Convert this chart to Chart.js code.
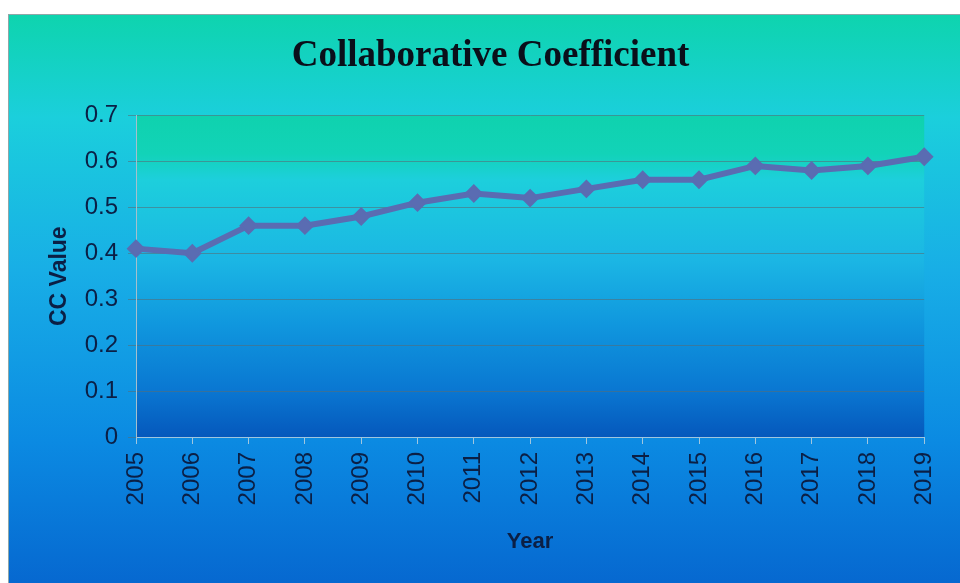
<!DOCTYPE html>
<html>
<head>
<meta charset="utf-8">
<script src="https://cdn.jsdelivr.net/npm/chart.js@4.4.1/dist/chart.umd.min.js"></script>
<style>
  html, body { margin: 0; padding: 0; background: #fff; overflow: hidden; }
  #wrap {
    position: absolute; left: 8px; top: 14px; width: 952px; height: 569px;
    border-left: 1px solid #8fa7a8; border-top: 1px solid #8fa7a8;
    background: linear-gradient(to bottom, #0ed4ae 0%, #1bcfdc 18%, #18aee6 45%, #0b8ae2 75%, #0668d0 100%);
  }
</style>
</head>
<body>
<div id="wrap"><canvas id="ccChart"></canvas></div>
<script>
// collaborative coefficient per year
const years = ['2005', '2006', '2007', '2008', '2009', '2010', '2011', '2012',
               '2013', '2014', '2015', '2016', '2017', '2018', '2019'];
const ccValues = [0.41, 0.40, 0.46, 0.46, 0.48, 0.51, 0.53, 0.52,
                  0.54, 0.56, 0.56, 0.59, 0.58, 0.59, 0.61];
const yTicks = [0, 0.1, 0.2, 0.3, 0.4, 0.5, 0.6, 0.7];

const TEXT = '#0b1f45';
const LINE = '#5a6cb2';

// shaded plot area behind the grid
const plotFill = {
  id: 'plotFill',
  beforeDraw(chart) {
    const { ctx, chartArea: a } = chart;
    const g = ctx.createLinearGradient(0, a.top, 0, a.bottom);
    g.addColorStop(0, '#0fd2ae');
    g.addColorStop(0.12, '#12d3b8');
    g.addColorStop(0.2, '#1dcfdc');
    g.addColorStop(0.45, '#1bb6e4');
    g.addColorStop(0.65, '#1097de');
    g.addColorStop(0.85, '#0a78d2');
    g.addColorStop(1, '#0558bc');
    ctx.save();
    ctx.fillStyle = g;
    ctx.fillRect(a.left, a.top, a.right - a.left, a.bottom - a.top);
    ctx.restore();
  }
};

new Chart(document.getElementById('ccChart'), {
  type: 'line',
  data: {
    labels: years,
    datasets: [{
      label: 'CC Value',
      data: ccValues,
      borderColor: LINE,
      backgroundColor: LINE,
      borderWidth: 6,
      pointStyle: 'rectRot',
      pointRadius: 8,
      pointBorderWidth: 2,
      tension: 0
    }]
  },
  options: {
    responsive: true,
    maintainAspectRatio: false,
    animation: false,
    layout: { padding: { left: 11, right: 0, top: 0, bottom: 0 } },
    plugins: {
      legend: { display: false },
      tooltip: { enabled: false },
      title: {
        display: true,
        text: 'Collaborative Coefficient',
        color: '#0a0f1a',
        font: { family: '"Liberation Serif", "Times New Roman", serif', size: 37, weight: 'bold' },
        padding: { top: 19, bottom: 37 }
      }
    },
    scales: {
      x: {
        offset: false,
        afterFit(scale) { scale.height = 147; },
        grid: { drawOnChartArea: false, drawTicks: true, tickLength: 7, color: '#a0c6de' },
        border: { color: '#a0c6de', width: 1 },
        ticks: {
          color: TEXT, minRotation: 90, maxRotation: 90, autoSkip: false, padding: 8,
          font: { family: '"Liberation Sans", Arial, sans-serif', size: 24 }
        },
        title: {
          display: true, text: 'Year', color: TEXT,
          font: { family: '"Liberation Sans", Arial, sans-serif', size: 22, weight: 'bold' },
          padding: { top: 0, bottom: 29 }
        }
      },
      y: {
        min: 0,
        max: 0.7,
        afterFit(scale) { scale.width = 116; },
        afterBuildTicks(scale) { scale.ticks = yTicks.map(v => ({ value: v })); },
        grid: { color: 'rgba(85, 110, 120, 0.6)', tickLength: 8, lineWidth: 1 },
        border: { color: '#a6bfcc', width: 1 },
        ticks: {
          color: TEXT, padding: 10,
          font: { family: '"Liberation Sans", Arial, sans-serif', size: 24 },
          callback: v => String(+v.toFixed(1))
        },
        title: {
          display: true, text: 'CC Value', color: TEXT,
          font: { family: '"Liberation Sans", Arial, sans-serif', size: 23, weight: 'bold' },
          padding: { top: 26, bottom: 0 }
        }
      },
      // empty right-hand strip so the plot ends short of the frame
      gap: {
        type: 'linear',
        position: 'right',
        display: true,
        afterFit(scale) { scale.width = 36; },
        grid: { display: false },
        border: { display: false },
        ticks: { display: false }
      }
    }
  },
  plugins: [plotFill]
});
</script>
</body>
</html>
